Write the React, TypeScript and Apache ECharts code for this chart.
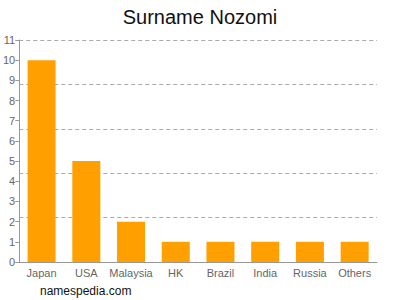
import React, { useEffect, useRef } from "react";
import * as echarts from "echarts";

const categories = ["Japan", "USA", "Malaysia", "HK", "Brazil", "India", "Russia", "Others"];
const values = [10, 5, 2, 1, 1, 1, 1, 1];
const titleText = "Surname Nozomi";
const footerText = "namespedia.com";

export default function App() {
  const ref = useRef<HTMLDivElement>(null);
  useEffect(() => {
    if (!ref.current) return;
    const chart = echarts.init(ref.current, null, { renderer: "svg" });
    const font = "'Liberation Sans', Arial, Helvetica, sans-serif";
    chart.setOption({
      animation: false,
      textStyle: { fontFamily: font },
      title: {
        text: titleText,
        left: "center",
        top: 2,
        textStyle: { fontSize: 20, fontWeight: "normal", color: "#111", fontFamily: font },
      },
      graphic: [
        {
          type: "text",
          left: 40,
          top: 285,
          style: { text: footerText, fontSize: 12, fill: "#111", fontFamily: font },
        },
      ],
      grid: { left: 17, right: 23, top: 40, bottom: 38, containLabel: false },
      xAxis: {
        type: "category",
        data: categories,
        axisLine: { lineStyle: { color: "#999" } },
        axisTick: { alignWithLabel: true, length: 4, lineStyle: { color: "#999" } },
        axisLabel: { interval: 0, color: "#666", fontSize: 11, margin: 5, fontFamily: font },
      },
      yAxis: [
        {
          type: "value",
          min: 0,
          max: 11,
          interval: 1,
          axisLine: { show: true, lineStyle: { color: "#999" } },
          axisTick: { show: true, length: 4, lineStyle: { color: "#999" } },
          axisLabel: { color: "#666", fontSize: 11, margin: 4, fontFamily: font },
          splitLine: { show: false },
        },
        {
          type: "value",
          min: 0,
          max: 11,
          interval: 2.2,
          position: "left",
          axisLine: { show: false },
          axisTick: { show: false },
          axisLabel: { show: false },
          splitLine: { show: true, lineStyle: { color: "#aaa", type: [4, 3] } },
        },
      ],
      series: [
        {
          type: "bar",
          data: values,
          yAxisIndex: 0,
          barWidth: 28,
          itemStyle: { color: "#ffa000" },
        },
      ],
    });
    return () => chart.dispose();
  }, []);
  return <div ref={ref} style={{ width: 400, height: 300, position: "absolute", left: 0, top: 0 }} />;
}
